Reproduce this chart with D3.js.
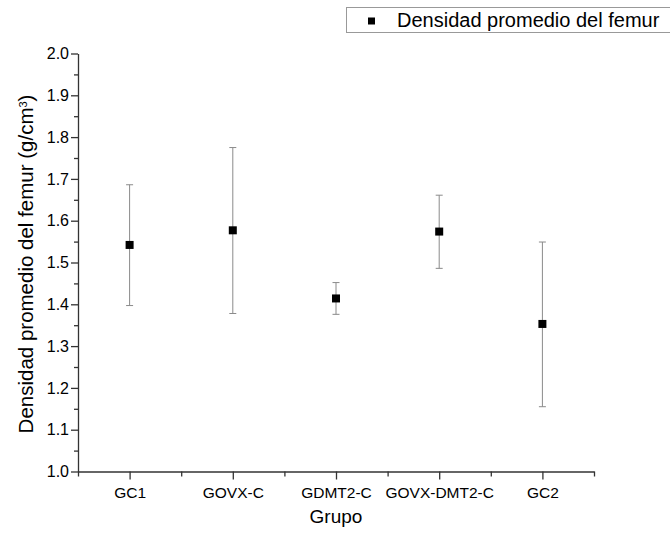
<!DOCTYPE html>
<html>
<head>
<meta charset="utf-8">
<script src="https://cdn.jsdelivr.net/npm/d3@7"></script>
<style>
	body {margin:0; background:#fff;}
	text {font-family: "Liberation Sans", Arial, sans-serif; fill:#000;}
</style>
</head>
<body>
<div id="chart"></div>
<script>
(function(){
	var groups = ["GC1", "GOVX-C", "GDMT2-C", "GOVX-DMT2-C", "GC2"];
	var means  = [1.542, 1.577, 1.414, 1.574, 1.353];
	var errLow = [1.397, 1.378, 1.376, 1.486, 1.155];
	var errHigh = [1.686, 1.775, 1.452, 1.661, 1.549];
	var yTicks = [1.0, 1.1, 1.2, 1.3, 1.4, 1.5, 1.6, 1.7, 1.8, 1.9, 2.0];
	var seriesName = "Densidad promedio del femur";

	var width = 670, height = 533;
	var margin = {left:78, right:76, top:53.5, bottom:61.5};

	var svg = d3.select("#chart").append("svg")
				.attr("width", width)
				.attr("height", height);

	var x = d3.scaleLinear()
			  .domain([0.5, groups.length + 0.5])
			  .range([margin.left, width - margin.right]);

	var y = d3.scaleLinear()
			  .domain([1.0, 2.0])
			  .range([height - margin.bottom, margin.top]);

	var data = groups.map(function(g, i){
		return {name: g, pos: i + 1, mean: means[i], lo: errLow[i], hi: errHigh[i]};
	});

	// minor ticks first (no labels)
	var yMinor = d3.range(10).map(function(i){ return 1.05 + i * 0.1; });
	svg.append("g")
	   .attr("transform", "translate(" + margin.left + ",0)")
	   .call(d3.axisLeft(y).tickValues(yMinor).tickSize(4).tickFormat(""))
	   .call(function(g){ g.select(".domain").remove(); });

	var xMinor = d3.range(groups.length + 1).map(function(i){ return i + 0.5; });
	svg.append("g")
	   .attr("transform", "translate(0," + y(1.0) + ")")
	   .call(d3.axisBottom(x).tickValues(xMinor).tickSize(5).tickFormat(""))
	   .call(function(g){ g.select(".domain").remove(); });

	var yAxis = svg.append("g")
	   .attr("transform", "translate(" + margin.left + ",0)")
	   .call(d3.axisLeft(y).tickValues(yTicks).tickSize(7).tickSizeOuter(0).tickPadding(2).tickFormat(d3.format(".1f")));

	var xAxis = svg.append("g")
	   .attr("transform", "translate(0," + y(1.0) + ")")
	   .call(d3.axisBottom(x).tickValues(data.map(function(d){return d.pos;}))
			 .tickSize(8).tickSizeOuter(0).tickPadding(7.5)
			 .tickFormat(function(d){ return groups[d - 1]; }));

	svg.selectAll(".tick line, .domain").attr("stroke", "#333").attr("stroke-width", 1.3);
	yAxis.selectAll("text").style("font-size", "16px").attr("fill", "#000");
	xAxis.selectAll("text").style("font-size", "15.5px").attr("fill", "#000");

	// error bars
	var bars = svg.append("g").attr("class", "errors");
	bars.selectAll(".stem").data(data).enter().append("line")
		.attr("x1", function(d){ return x(d.pos); })
		.attr("x2", function(d){ return x(d.pos); })
		.attr("y1", function(d){ return y(d.lo); })
		.attr("y2", function(d){ return y(d.hi); })
		.attr("stroke", "#8a8a8a").attr("stroke-width", 1);
	["lo", "hi"].forEach(function(k){
		bars.selectAll(".cap-" + k).data(data).enter().append("line")
			.attr("x1", function(d){ return x(d.pos) - 3.5; })
			.attr("x2", function(d){ return x(d.pos) + 3.5; })
			.attr("y1", function(d){ return y(d[k]); })
			.attr("y2", function(d){ return y(d[k]); })
			.attr("stroke", "#8a8a8a").attr("stroke-width", 1);
	});

	svg.append("g").selectAll("rect").data(data).enter().append("rect")
	   .attr("x", function(d){ return x(d.pos) - 4; })
	   .attr("y", function(d){ return y(d.mean) - 4; })
	   .attr("width", 8).attr("height", 8)
	   .attr("fill", "#000");

	// axis titles
	svg.append("text")
	   .attr("x", (margin.left + width - margin.right) / 2)
	   .attr("y", 523)
	   .attr("text-anchor", "middle")
	   .style("font-size", "19px")
	   .text("Grupo");

	var yt = svg.append("text")
	   .attr("transform", "translate(33,264) rotate(-90)")
	   .attr("text-anchor", "middle")
	   .style("font-size", "20.5px");
	yt.append("tspan").text("Densidad promedio del femur (g/cm");
	yt.append("tspan").attr("baseline-shift", "super").style("font-size", "11px").text("3");
	yt.append("tspan").text(")");

	// legend
	var lg = svg.append("g");
	lg.append("rect")
	  .attr("x", 346.5).attr("y", 7.5)
	  .attr("width", 330).attr("height", 25)
	  .attr("fill", "#fff").attr("stroke", "#999").attr("stroke-width", 1);
	lg.append("rect")
	  .attr("x", 368).attr("y", 17.5).attr("width", 7).attr("height", 7)
	  .attr("fill", "#000");
	lg.append("text")
	  .attr("x", 397).attr("y", 27)
	  .style("font-size", "20px")
	  .text(seriesName);
})();
</script>
</body>
</html>
